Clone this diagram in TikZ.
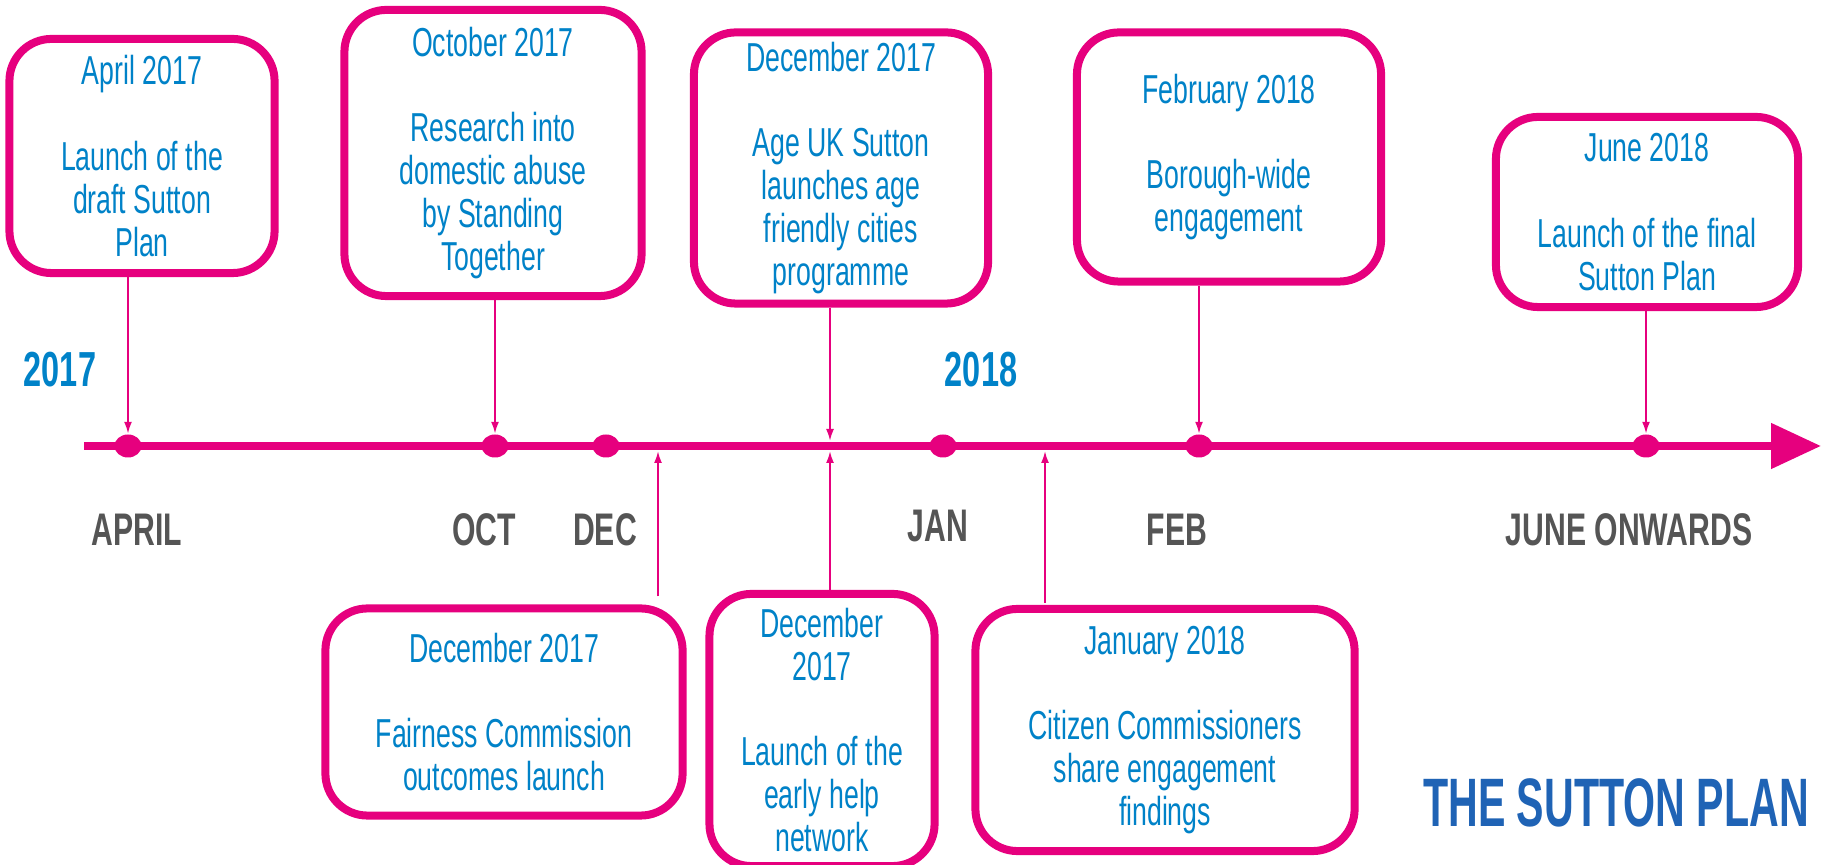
\documentclass[tikz,border=0pt]{standalone}
\usepackage{fontspec}
\setmainfont{Liberation Sans}[FakeStretch=0.66]
\newfontfamily\logofont{Liberation Sans}[FakeStretch=0.6]
\usetikzlibrary{arrows.meta,shapes.geometric}

\definecolor{suttonpink}{HTML}{E6007E}
\definecolor{suttonblue}{HTML}{0082C8}
\definecolor{logoblue}{HTML}{1F63B5}
\definecolor{monthgrey}{HTML}{555555}

\tikzset{
  event/.style={draw=suttonpink, line width=0.08cm, rounded corners=0.42cm, fill=white,
    text=suttonblue, align=center, inner sep=0pt, font=\fontsize{11.5}{12.2}\selectfont},
  dot/.style={ellipse, fill=suttonpink, inner sep=0pt, minimum width=0.27cm, minimum height=0.23cm},
  conn/.style={draw=suttonpink, line width=0.02cm, -{Latex[length=0.12cm,width=0.08cm]}},
  month/.style={text=monthgrey, font=\bfseries\fontsize{13}{13}\selectfont},
  year/.style={text=suttonblue, font=\bfseries\fontsize{14}{14}\selectfont}
}

\begin{document}
\begin{tikzpicture}[x=0.01cm, y=-0.01cm]
  \useasboundingbox (0,0) rectangle (1825,865);

  \coordinate (start) at (84,446);
  \coordinate (end) at (1821,446);
  \draw[draw=suttonpink, line width=0.08cm, -{Triangle[length=0.5cm,width=0.44cm]}] (start) -- (end);

  \foreach \n/\x in {apr/128, oct/495, dec/606, jan/943, feb/1199, jun/1646}
    \node[dot] (d\n) at (\x,446) {};

  \node[year] (y17) at (60,370) {2017};
  \node[year] (y18) at (981,370) {2018};

  \node[month] (lapr) at (137,530) {APRIL};
  \node[month] (loct) at (484,530) {OCT};
  \node[month] (ldec) at (605,530) {DEC};
  \node[month] (ljan) at (938,526) {JAN};
  \node[month] (lfeb) at (1177,530) {FEB};
  \node[month] (ljun) at (1629,530) {JUNE ONWARDS};

  \node[event, minimum width=2.65cm, minimum height=2.34cm] (apr) at (142,156)
    {April 2017\\[12.2pt]Launch of the\\draft Sutton\\Plan};
  \node[event, minimum width=2.97cm, minimum height=2.86cm] (oct) at (493,153)
    {October 2017\\[12.2pt]Research into\\domestic abuse\\by Standing\\Together};
  \node[event, minimum width=2.94cm, minimum height=2.71cm] (age) at (841,168)
    {December 2017\\[12.2pt]Age UK Sutton\\launches age\\friendly cities\\programme};
  \node[event, minimum width=3.04cm, minimum height=2.49cm] (feb) at (1229,157)
    {February 2018\\[12.2pt]Borough-wide\\engagement};
  \node[event, minimum width=3.02cm, minimum height=1.90cm] (jun) at (1647,212)
    {June 2018\\[12.2pt]Launch of the final\\Sutton Plan};

  \node[event, minimum width=3.57cm, minimum height=2.07cm] (fair) at (504,712)
    {December 2017\\[12.2pt]Fairness Commission\\outcomes launch};
  \node[event, minimum width=2.25cm, minimum height=2.72cm] (help) at (822,730)
    {December\\2017\\[12.2pt]Launch of the\\early help\\network};
  \node[event, minimum width=3.79cm, minimum height=2.42cm] (cit) at (1165,730)
    {January 2018\\[12.2pt]Citizen Commissioners\\share engagement\\findings};

  \node[text=logoblue, font=\logofont\bfseries\fontsize{19.5}{19.5}\selectfont] (logo) at (1616,803)
    {THE SUTTON PLAN};

  \coordinate (tage) at (830,441);
  \coordinate (tfair) at (658,451);
  \coordinate (thelp) at (830,451);
  \coordinate (tcit) at (1045,451);

  \draw[conn] (dapr |- apr.south) -- (dapr.north);
  \draw[conn] (doct |- oct.south) -- (doct.north);
  \draw[conn] (tage |- age.south) -- (tage);
  \draw[conn] (dfeb |- feb.south) -- (dfeb.north);
  \draw[conn] (djun |- jun.south) -- (djun.north);

  \draw[conn] (tfair |- fair.north) ++(0,-8) -- (tfair);
  \draw[conn] (thelp |- help.north) -- (thelp);
  \draw[conn] (tcit |- cit.north) ++(0,-2) -- (tcit);
\end{tikzpicture}
\end{document}
